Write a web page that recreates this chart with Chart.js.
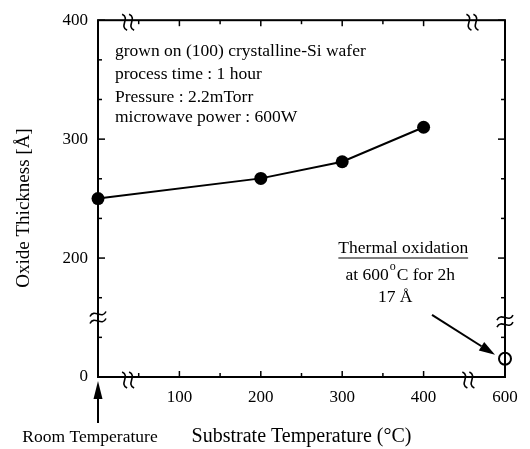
<!DOCTYPE html>
<html>
<head>
<meta charset="utf-8">
<script src="https://cdn.jsdelivr.net/npm/chart.js@4.4.0/dist/chart.umd.min.js"></script>
<style>
html, body { margin: 0; padding: 0; background: #fff; }
</style>
</head>
<body>
<canvas id="myChart" width="530" height="449"></canvas>
<script>
// plasma oxidation runs
const tempLabels = ['RT', 200, 300, 400];
const oxideThickness = [250, 267, 281, 310];
// thermal oxidation reference
const thermalTemp = 600;
const thermalThickness = 17;
// labels on the broken axes (axis position -> text)
const yTickLabels = { 100: '0', 200: '200', 300: '300', 400: '400' };
const xTickLabels = { 100: '100', 200: '200', 300: '300', 400: '400', 500: '600' };

// both axes are broken: room temperature sits at 0 and 600 °C at 500 on x,
// below the y break 0 Å sits at 100 and the low range is squeezed
function axisX(t) { return t === 'RT' ? 0 : (t > 450 ? t - 100 : t); }
function axisY(v) { return v < 100 ? 100 + v * 0.9 : v; }

const serif = "'Liberation Serif', 'Times New Roman', serif";
Chart.defaults.color = '#000';
Chart.defaults.font.family = serif;

function line(ctx, x1, y1, x2, y2) {
  ctx.beginPath(); ctx.moveTo(x1, y1); ctx.lineTo(x2, y2); ctx.stroke();
}

function arrow(ctx, x1, y1, x2, y2, head, half) {
  const ang = Math.atan2(y2 - y1, x2 - x1);
  const bx = x2 - head * Math.cos(ang), by = y2 - head * Math.sin(ang);
  line(ctx, x1, y1, bx, by);
  ctx.beginPath();
  ctx.moveTo(x2, y2);
  ctx.lineTo(bx + half * Math.sin(ang), by - half * Math.cos(ang));
  ctx.lineTo(bx - half * Math.sin(ang), by + half * Math.cos(ang));
  ctx.closePath(); ctx.fill();
}

// axis break mark: two little S strokes across the axis line
function breakMark(ctx, x, y, vertical) {
  ctx.save();
  ctx.translate(x, y);
  if (!vertical) ctx.rotate(Math.PI / 2);
  ctx.lineWidth = 1.6;
  [-3.5, 3.5].forEach(dx => {
    ctx.beginPath();
    ctx.moveTo(dx - 2.5, -8);
    ctx.bezierCurveTo(dx + 6, -4, dx - 6, 4, dx + 2.5, 8);
    ctx.stroke();
  });
  ctx.restore();
}

const decor = {
  id: 'decor',
  afterDraw(chart) {
    const { ctx, chartArea: a, scales: { x, y } } = chart;
    ctx.save();
    ctx.strokeStyle = '#000';
    ctx.fillStyle = '#000';

    // frame
    ctx.lineWidth = 2;
    ctx.strokeRect(a.left, a.top, a.right - a.left, a.bottom - a.top);

    // inward ticks on all four sides
    ctx.lineWidth = 1.5;
    y.ticks.forEach(t => {
      const py = y.getPixelForValue(t.value);
      const len = yTickLabels[Math.round(t.value)] && Math.abs(t.value - Math.round(t.value)) < 0.01 ? 7 : 4;
      line(ctx, a.left, py, a.left + len, py);
      line(ctx, a.right, py, a.right - len, py);
    });
    x.ticks.forEach(t => {
      if (t.value === 450) return;
      const px = x.getPixelForValue(t.value);
      const len = t.value % 100 === 0 ? 6 : 4;
      line(ctx, px, a.bottom, px, a.bottom - len);
      line(ctx, px, a.top, px, a.top + len);
    });

    // breaks
    breakMark(ctx, x.getPixelForValue(37), a.bottom + 3, true);
    breakMark(ctx, x.getPixelForValue(37), a.top + 2, true);
    breakMark(ctx, x.getPixelForValue(455), a.bottom + 3, true);
    breakMark(ctx, x.getPixelForValue(460), a.top + 2, true);
    breakMark(ctx, a.left, y.getPixelForValue(150), false);
    breakMark(ctx, a.right, y.getPixelForValue(147), false);

    // y axis title, drawn a little below the middle of the axis
    ctx.save();
    ctx.translate(24, 208);
    ctx.rotate(-Math.PI / 2);
    ctx.font = '19px ' + serif;
    ctx.textAlign = 'center';
    ctx.textBaseline = 'middle';
    ctx.fillText('Oxide Thickness [Å]', 0, 0);
    ctx.restore();

    // process conditions
    ctx.font = '17.5px ' + serif;
    ctx.textAlign = 'left';
    ctx.textBaseline = 'middle';
    const tx = a.left + 17;
    ctx.fillText('grown on (100) crystalline-Si wafer', tx, a.top + 31);
    ctx.fillText('process time : 1 hour', tx, a.top + 54);
    ctx.fillText('Pressure : 2.2mTorr', tx, a.top + 77);
    ctx.fillText('microwave power : 600W', tx, a.top + 97);

    // thermal oxidation note
    const cx = x.getPixelForValue(375);
    ctx.textAlign = 'center';
    const head = 'Thermal oxidation';
    ctx.fillText(head, cx, 248);
    const hw = ctx.measureText(head).width;
    ctx.lineWidth = 1;
    line(ctx, cx - hw / 2, 258, cx + hw / 2, 258);

    const p1 = 'at 600', p2 = 'C for 2h';
    ctx.font = '17.5px ' + serif;
    const w1 = ctx.measureText(p1).width, w2 = ctx.measureText(p2).width;
    ctx.font = '12px ' + serif;
    const wo = ctx.measureText('o').width + 2;
    const sx = cx - 3 - (w1 + wo + w2) / 2;
    ctx.textAlign = 'left';
    ctx.font = '17.5px ' + serif;
    ctx.fillText(p1, sx, 275);
    ctx.font = '12px ' + serif;
    ctx.fillText('o', sx + w1 + 1, 267);
    ctx.font = '17.5px ' + serif;
    ctx.fillText(p2, sx + w1 + wo, 275);
    ctx.textAlign = 'center';
    ctx.fillText('17 Å', cx - 8, 297);

    // arrow to the thermal point
    const ex = x.getPixelForValue(axisX(thermalTemp));
    const ey = y.getPixelForValue(axisY(thermalThickness));
    ctx.lineWidth = 2;
    arrow(ctx, ex - 73, ey - 44, ex - 10, ey - 4, 16, 5);

    // room temperature marker
    arrow(ctx, a.left, a.bottom + 46, a.left, a.bottom + 4, 18, 4.5);
    ctx.font = '17.5px ' + serif;
    ctx.fillText('Room Temperature', a.left - 8, 437);

    ctx.restore();
  }
};

const mainPoints = tempLabels.map((t, i) => ({ x: axisX(t), y: axisY(oxideThickness[i]) }));
const thermalPoint = [{ x: axisX(thermalTemp), y: axisY(thermalThickness) }];

new Chart(document.getElementById('myChart').getContext('2d'), {
  type: 'scatter',
  data: {
    datasets: [{
      label: 'Plasma oxide',
      data: mainPoints,
      showLine: true,
      borderColor: '#000',
      borderWidth: 2,
      backgroundColor: '#000',
      pointRadius: 6.5,
      pointBorderWidth: 0,
      clip: false
    }, {
      label: 'Thermal oxide',
      data: thermalPoint,
      borderColor: '#000',
      borderWidth: 2,
      backgroundColor: '#fff',
      pointRadius: 6,
      clip: false
    }]
  },
  options: {
    responsive: false,
    animation: false,
    events: [],
    layout: { padding: { left: 0, right: 25, top: 14, bottom: 0 } },
    plugins: {
      legend: { display: false },
      tooltip: { enabled: false }
    },
    scales: {
      x: {
        type: 'linear',
        min: 0,
        max: 500,
        grid: { display: false, drawTicks: false },
        border: { display: false },
        ticks: {
          stepSize: 50,
          autoSkip: false,
          maxRotation: 0,
          padding: 10,
          font: { size: 17 },
          callback: v => xTickLabels[v] || ''
        },
        title: {
          display: true,
          text: 'Substrate Temperature (°C)',
          font: { size: 20 },
          padding: { top: 0, bottom: 0 }
        },
        afterFit: s => { s.height = 72; }
      },
      y: {
        type: 'linear',
        min: 100,
        max: 400,
        grid: { display: false, drawTicks: false },
        border: { display: false },
        ticks: {
          stepSize: 100 / 3,
          autoSkip: false,
          padding: 10,
          font: { size: 17 },
          callback: v => {
            const r = Math.round(v);
            return Math.abs(v - r) < 0.01 && yTickLabels[r] ? yTickLabels[r] : '';
          }
        },
        afterFit: s => { s.width = 98; }
      }
    }
  },
  plugins: [decor]
});
</script>
</body>
</html>
